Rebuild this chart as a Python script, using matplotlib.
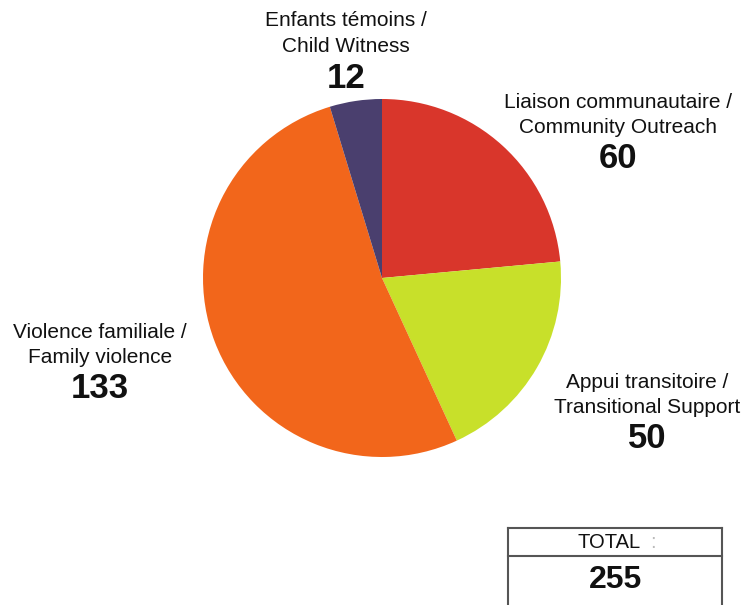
import matplotlib
matplotlib.use("Agg")
import matplotlib.pyplot as plt

# Data
categories = ["Liaison communautaire /\nCommunity Outreach",
              "Appui transitoire /\nTransitional Support",
              "Violence familiale /\nFamily violence",
              "Enfants témoins /\nChild Witness"]
values = [60, 50, 133, 12]
colors = ["#d9362b", "#c8e02a", "#f2661b", "#4a3f6e"]
total_label = "TOTAL"
total_value = sum(values)

W, H = 745, 605
plt.rcParams['font.family'] = ['Liberation Sans', 'DejaVu Sans']

fig = plt.figure(figsize=(W / 100, H / 100), dpi=100)
ax = fig.add_axes([0, 0, 1, 1])

def Y(y):
    return H - y

ax.pie(values, colors=colors, startangle=90, counterclock=False,
       center=(382, Y(278)), radius=179,
       wedgeprops=dict(linewidth=0))
ax.set_xlim(0, W)
ax.set_ylim(0, H)
ax.set_aspect('equal')
ax.axis('off')

# label positions (pixel coords: x, y of first line)
label_pos = [(618, 102), (647, 382), (100, 332), (346, 21)]
for cat, val, (x, y) in zip(categories, values, label_pos):
    l1, l2 = cat.split("\n")
    ax.text(x, Y(y), l1, ha='center', va='center', fontsize=15, color='#111111')
    ax.text(x, Y(y + 25.5), l2, ha='center', va='center', fontsize=15, color='#111111')
    ax.text(x, Y(y + 57), str(val), ha='center', va='center', fontsize=25,
            fontweight='bold', color='#111111')

# Total box
lc = '#555555'
ax.plot([508, 722], [Y(528), Y(528)], color=lc, lw=1.5)
ax.plot([508, 722], [Y(556), Y(556)], color=lc, lw=1.5)
ax.plot([508, 508], [Y(528), Y(605)], color=lc, lw=1.5)
ax.plot([722, 722], [Y(528), Y(605)], color=lc, lw=1.5)
ax.text(609, Y(543), total_label, ha='center', va='center', fontsize=14.5, color='#111111')
ax.text(653, Y(543), ":", ha='center', va='center', fontsize=14.5, color='#bbbbbb')
ax.text(616, Y(580), str(total_value), ha='center', va='center', fontsize=23,
        fontweight='bold', color='#111111')

fig.savefig("out.png", dpi=100)
